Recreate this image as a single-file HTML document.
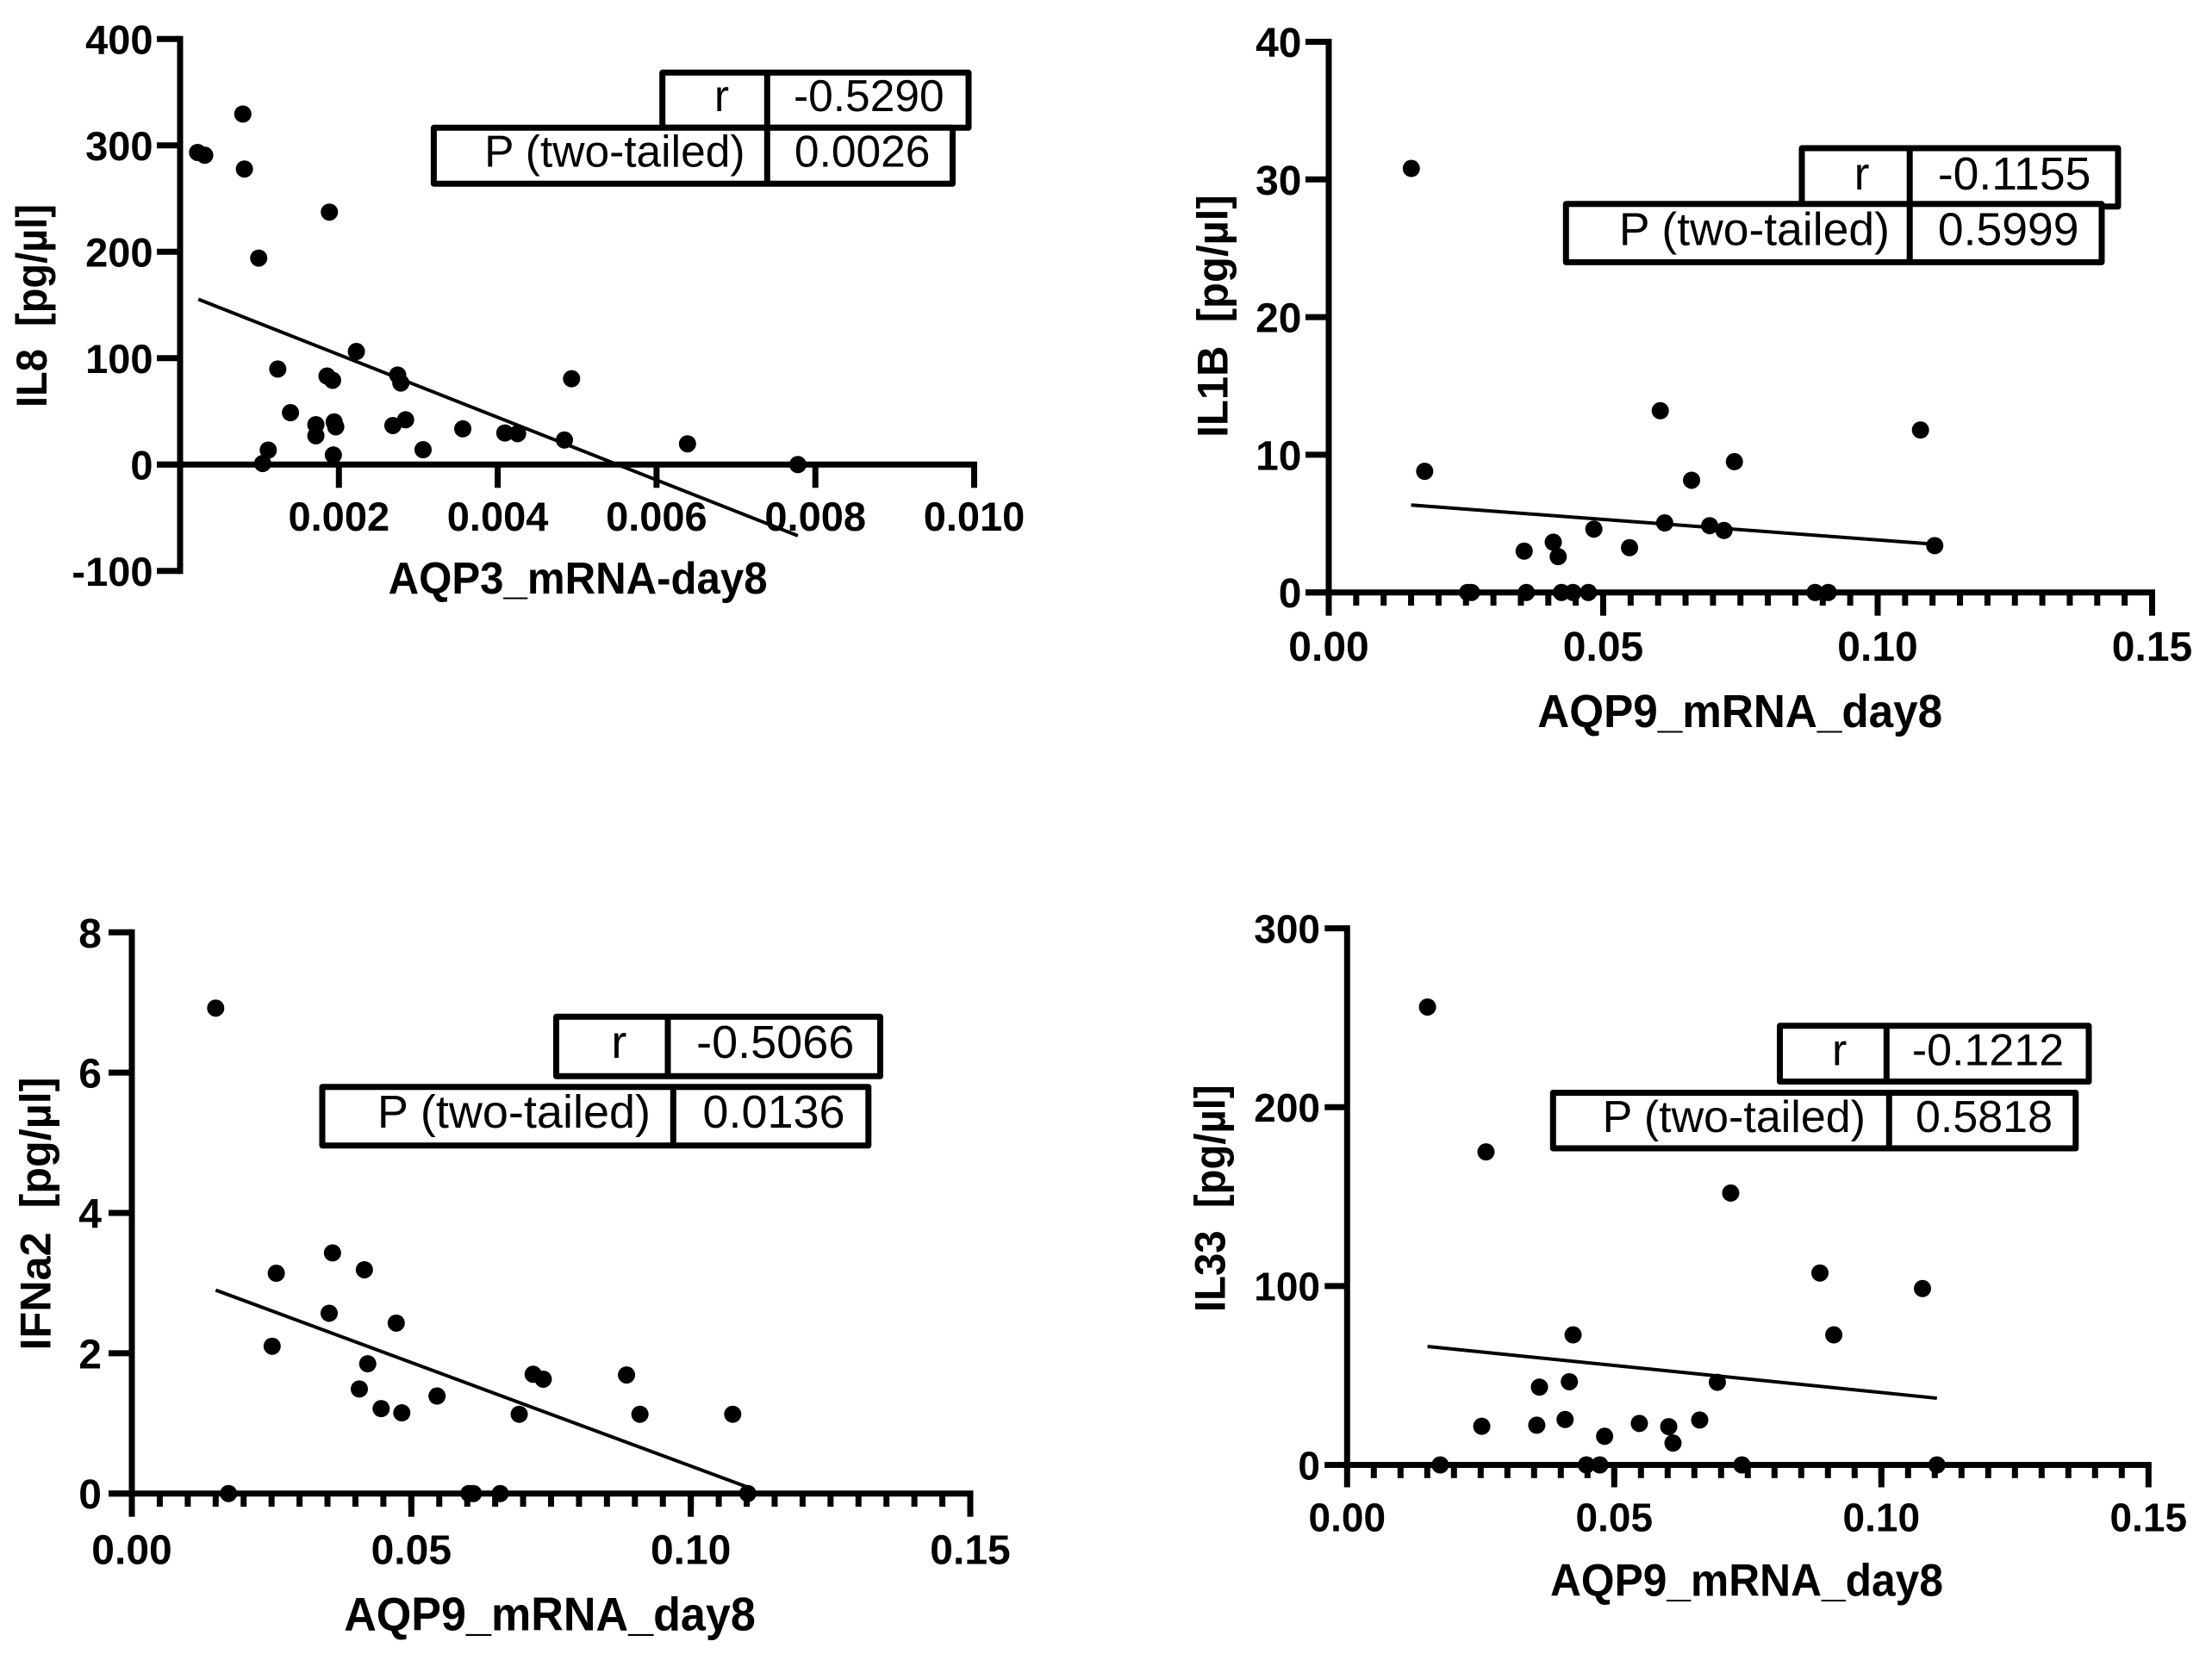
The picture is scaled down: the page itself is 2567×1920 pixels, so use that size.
<!DOCTYPE html>
<html lang="en">
<head>
<meta charset="utf-8">
<title>AQP mRNA correlation scatter plots</title>
<style>
html,body{margin:0;padding:0;background:#fff;}
svg{display:block;}
text{font-family:"Liberation Sans",sans-serif;fill:#000;white-space:pre;}
.t{font-weight:bold;}
.v{font-weight:normal;}
</style>
</head>
<body>
<svg id="figure" xmlns="http://www.w3.org/2000/svg" width="2567" height="1920" viewBox="0 0 2567 1920">
  <rect x="0" y="0" width="2567" height="1920" fill="#fff"/>

  <g id="panel-il8">
    <text class="t" transform="translate(54,355) rotate(-90)" text-anchor="middle" font-size="50" textLength="236" lengthAdjust="spacingAndGlyphs">IL8  [pg/µl]</text>
    <text class="t" x="670.6" y="689" text-anchor="middle" font-size="52" textLength="440" lengthAdjust="spacingAndGlyphs">AQP3_mRNA-day8</text>
  </g>
  <g id="panel-il1b">
    <text class="t" transform="translate(1424.3,367) rotate(-90)" text-anchor="middle" font-size="50" textLength="281.5" lengthAdjust="spacingAndGlyphs">IL1B  [pg/µl]</text>
    <text class="t" x="2019.2" y="844" text-anchor="middle" font-size="54" textLength="470" lengthAdjust="spacingAndGlyphs">AQP9_mRNA_day8</text>
  </g>
  <g id="panel-ifna2">
    <text class="t" transform="translate(58.7,1409) rotate(-90)" text-anchor="middle" font-size="50" textLength="317" lengthAdjust="spacingAndGlyphs">IFNa2  [pg/µl]</text>
    <text class="t" x="638" y="1892.7" text-anchor="middle" font-size="55" textLength="477.6" lengthAdjust="spacingAndGlyphs">AQP9_mRNA_day8</text>
  </g>
  <g id="panel-il33">
    <text class="t" transform="translate(1421.3,1391.2) rotate(-90)" text-anchor="middle" font-size="50" textLength="263.6" lengthAdjust="spacingAndGlyphs">IL33  [pg/µl]</text>
    <text class="t" x="2027" y="1852.7" text-anchor="middle" font-size="53" textLength="456" lengthAdjust="spacingAndGlyphs">AQP9_mRNA_day8</text>
  </g>
</svg>

<script>
// ---------- IL8 panel data ----------
const il8X = [0.00022,0.00031,0.00079,0.00081,0.00099,0.00188,0.00123,0.00185,0.00192,0.00222,0.00274,0.00278,0.00493,0.00139,0.00171,0.00171,0.00194,0.00196,0.00268,0.00284,0.00306,0.00356,0.00409,0.00425,0.00484,0.00639,0.00778,0.00104,0.00111,0.00193];
const il8Y = [293.4,290.8,329.5,277.8,194.1,237.3,89.8,83.2,79.2,106.3,84.2,76.7,80.7,48.8,37.5,27.1,40.1,35.5,36.7,42.1,14,33.6,29.7,29.1,23.1,19.5,0,1,13.6,9];
const il8FitX = [0.00023,0.00778];
const il8FitY = [155.4,-66.9];
const il8XTicks = [0.002,0.004,0.006,0.008,0.010];
const il8XTickLabels = ["0.002","0.004","0.006","0.008","0.010"];
const il8YTicks = [-100,0,100,200,300,400];
const il8YTickLabels = ["-100","0","100","200","300","400"];

// ---------- IL1B panel data ----------
const il1bX = [0.01504,0.01748,0.0604,0.1078,0.0739,0.0661,0.0612,0.0694,0.072,0.0483,0.0548,0.1104,0.0356,0.0409,0.0418,0.0253,0.026,0.036,0.0424,0.0445,0.0473,0.0886,0.091];
const il1bY = [30.8,8.8,13.2,11.8,9.5,8.15,5.05,4.85,4.5,4.6,3.25,3.4,3,3.65,2.6,0,0,0,0,0,0,0,0];
const il1bFitX = [0.015,0.1104];
const il1bFitY = [6.35,3.5];
const il1bYTicks = [0,10,20,30,40];
const il1bYTickLabels = ["0","10","20","30","40"];

// ---------- IFNa2 panel data ----------
const ifna2X = [0.015,0.02584,0.0359,0.0416,0.0353,0.0473,0.0251,0.0422,0.0407,0.0446,0.0483,0.0546,0.0693,0.0718,0.0736,0.0885,0.0909,0.1075,0.0173,0.0603,0.0611,0.0659,0.1102];
const ifna2Y = [6.92,3.14,3.43,3.19,2.57,2.43,2.1,1.85,1.49,1.21,1.15,1.39,1.13,1.7,1.63,1.69,1.13,1.13,0,0,0,0,0];
const ifna2FitX = [0.015,0.1102];
const ifna2FitY = [2.9,0.09];
const ifna2YTicks = [0,2,4,6,8];
const ifna2YTickLabels = ["0","2","4","6","8"];

// ---------- IL33 panel data ----------
const il33X = [0.01505,0.026,0.0718,0.0885,0.1077,0.0423,0.0911,0.0416,0.036,0.0693,0.0252,0.0355,0.0408,0.0482,0.0547,0.0602,0.061,0.066,0.01743,0.0448,0.0473,0.0739,0.1104];
const il33Y = [256,175,152,107.3,98.6,72.7,72.7,46.5,43.5,46.2,21.6,22.2,25.4,16,23.2,21.4,12.2,25.1,0,0,0,0,0];
const il33FitX = [0.01505,0.1104];
const il33FitY = [66.2,37.3];
const il33YTicks = [0,100,200,300];
const il33YTickLabels = ["0","100","200","300"];

// ---------- Shared AQP9 x axis data ----------
const aqp9XTicks = [0,0.05,0.10,0.15];
const aqp9XTickLabels = ["0.00","0.05","0.10","0.15"];
const aqp9MinorStep = 0.005;

const NS = "http://www.w3.org/2000/svg";

function mk(tag, parent, attrs) {
  const el = document.createElementNS(NS, tag);
  for (const k in attrs) el.setAttribute(k, attrs[k]);
  parent.appendChild(el);
  return el;
}

function drawPanel(p) {
  const g = document.getElementById(p.id);
  const sx = v => p.left + (v - p.xMin) / (p.xMax - p.xMin) * (p.right - p.left);
  const sy = v => p.bottom + (v - p.yMin) / (p.yMax - p.yMin) * (p.top - p.bottom);
  const zeroY = sy(0);

  // y axis line
  const yAxis = mk("line", g, {x1: sx(0), x2: sx(0), y1: p.top - p.sw / 2, y2: p.bottom + p.sw / 2, stroke: "#000", "stroke-width": p.sw});
  
  

  // x axis line
  const xAxis = mk("line", g, {x1: sx(0) - p.tick, x2: p.right + p.sw / 2, y1: zeroY, y2: zeroY, stroke: "#000", "stroke-width": p.sw});
  
  

  // y ticks and labels
  p.yTicks.forEach((v, i) => {
    const tick = mk("line", g, {x1: sx(0) - p.tick, x2: sx(0), y1: sy(v), y2: sy(v), stroke: "#000", "stroke-width": p.sw});
    
    
    const lab = mk("text", g, {x: p.yLabelRight, y: sy(v) + p.fs * 0.365, "text-anchor": "end", "font-size": p.fs, class: "t"});
    lab.textContent = p.yLabels[i];
    
    
  });

  // minor x ticks
  if (p.minorStep) {
    const n = Math.round((p.xMax - p.xMin) / p.minorStep);
    for (let i = 1; i < n; i++) {
      const v = p.xMin + i * p.minorStep;
      const minor = mk("line", g, {x1: sx(v), x2: sx(v), y1: zeroY, y2: zeroY + 15.3, stroke: "#000", "stroke-width": p.sw});
      
      
    }
  }

  // major x ticks and labels
  p.xTicks.forEach((v, i) => {
    const tick = mk("line", g, {x1: sx(v), x2: sx(v), y1: zeroY, y2: zeroY + p.tick, stroke: "#000", "stroke-width": p.sw});
    
    
    const lab = mk("text", g, {x: sx(v), y: p.xLabelY, "text-anchor": "middle", "font-size": p.fs, class: "t"});
    lab.textContent = p.xLabels[i];
    
    
  });

  // regression line
  const fit = mk("line", g, {x1: sx(p.fitX[0]), y1: sy(p.fitY[0]), x2: sx(p.fitX[1]), y2: sy(p.fitY[1]), stroke: "#000", "stroke-width": 4});
  
  

  // points
  p.xs.forEach((x, i) => {
    const dot = mk("circle", g, {cx: sx(x), cy: sy(p.ys[i]), r: 10, fill: "#000"});
    
    
  });

  // statistics table
  const s = p.stats;
  const rBox = mk("rect", g, {x: s.rx1, y: s.ry1, width: s.rx2 - s.rx1, height: s.ry2 - s.ry1, fill: "#fff", stroke: "#000", "stroke-width": 7, "stroke-linejoin": "round"});
  
  
  const rDiv = mk("line", g, {x1: s.rDiv, x2: s.rDiv, y1: s.ry1, y2: s.ry2, stroke: "#000", "stroke-width": 7});
  
  
  const pBox = mk("rect", g, {x: s.px1, y: s.py1, width: s.px2 - s.px1, height: s.py2 - s.py1, fill: "#fff", stroke: "#000", "stroke-width": 7, "stroke-linejoin": "round"});
  
  
  const pDiv = mk("line", g, {x1: s.pDiv, x2: s.pDiv, y1: s.py1, y2: s.py2, stroke: "#000", "stroke-width": 7});
  
  

  const rLabel = mk("text", g, {x: s.rLabelX, y: s.rBase, "text-anchor": "end", "font-size": s.fs, class: "v"});
  rLabel.textContent = "r";
  
  
  const rValue = mk("text", g, {x: s.rValueX, y: s.rBase, "text-anchor": "middle", "font-size": s.fs, class: "v"});
  rValue.textContent = s.rValue;
  
  
  const pLabel = mk("text", g, {x: s.pLabelX, y: s.pBase, "text-anchor": "end", "font-size": s.fs, class: "v"});
  pLabel.textContent = "P (two-tailed)";
  
  
  const pValue = mk("text", g, {x: s.pValueX, y: s.pBase, "text-anchor": "middle", "font-size": s.fs, class: "v"});
  pValue.textContent = s.pValue;
  
  
}

drawPanel({
  id: "panel-il8", key: "il8",
  left: 209, right: 1130.5, top: 45.3, bottom: 662.8, xMin: 0, xMax: 0.010, yMin: -100, yMax: 400,
  sw: 7, tick: 27, fs: 47, yLabelRight: 177.5, xLabelY: 616, minorStep: 0,
  xs: il8X, ys: il8Y, fitX: il8FitX, fitY: il8FitY,
  xTicks: il8XTicks, xLabels: il8XTickLabels, yTicks: il8YTicks, yLabels: il8YTickLabels,
  stats: {fs: 51.5, rx1: 768.7, rx2: 1124, ry1: 84.3, ry2: 148.3, rDiv: 890.3, px1: 503.4, px2: 1105.5, py1: 148.3, py2: 213.3, pDiv: 890.3,
    rLabelX: 846, pLabelX: 864.5, rValueX: 1008.3, pValueX: 1000.7, rBase: 129, pBase: 193.5, rValue: "-0.5290", pValue: "0.0026"}
});

drawPanel({
  id: "panel-il1b", key: "il1b",
  left: 1542, right: 2497.5, top: 48.5, bottom: 687.7, xMin: 0, xMax: 0.15, yMin: 0, yMax: 40,
  sw: 7, tick: 27, fs: 48, yLabelRight: 1510.5, xLabelY: 767, minorStep: aqp9MinorStep,
  xs: il1bX, ys: il1bY, fitX: il1bFitX, fitY: il1bFitY,
  xTicks: aqp9XTicks, xLabels: aqp9XTickLabels, yTicks: il1bYTicks, yLabels: il1bYTickLabels,
  stats: {fs: 53.5, rx1: 2091, rx2: 2458, ry1: 172, ry2: 239.8, rDiv: 2216.2, px1: 1817.3, px2: 2439, py1: 236.8, py2: 304.4, pDiv: 2216.2,
    rLabelX: 2169.5, pLabelX: 2193, rValueX: 2337.6, pValueX: 2330.7, rBase: 219.9, pBase: 284.5, rValue: "-0.1155", pValue: "0.5999"}
});

drawPanel({
  id: "panel-ifna2", key: "ifna2",
  left: 153, right: 1126, top: 1082.3, bottom: 1733.7, xMin: 0, xMax: 0.15, yMin: 0, yMax: 8,
  sw: 7, tick: 27, fs: 48, yLabelRight: 118, xLabelY: 1815.5, minorStep: aqp9MinorStep,
  xs: ifna2X, ys: ifna2Y, fitX: ifna2FitX, fitY: ifna2FitY,
  xTicks: aqp9XTicks, xLabels: aqp9XTickLabels, yTicks: ifna2YTicks, yLabels: ifna2YTickLabels,
  stats: {fs: 54, rx1: 645.5, rx2: 1021.5, ry1: 1180.3, ry2: 1249.3, rDiv: 775, px1: 374, px2: 1007.8, py1: 1261.7, py2: 1329.8, pDiv: 781.3,
    rLabelX: 727.3, pLabelX: 755, rValueX: 899.7, pValueX: 898, rBase: 1228, pBase: 1309, rValue: "-0.5066", pValue: "0.0136"}
});

drawPanel({
  id: "panel-il33", key: "il33",
  left: 1563.3, right: 2493.3, top: 1077.6, bottom: 1700.5, xMin: 0, xMax: 0.15, yMin: 0, yMax: 300,
  sw: 7, tick: 26, fs: 46, yLabelRight: 1532, xLabelY: 1777.5, minorStep: aqp9MinorStep,
  xs: il33X, ys: il33Y, fitX: il33FitX, fitY: il33FitY,
  xTicks: aqp9XTicks, xLabels: aqp9XTickLabels, yTicks: il33YTicks, yLabels: il33YTickLabels,
  stats: {fs: 52, rx1: 2065.5, rx2: 2424, ry1: 1190.8, ry2: 1255.5, rDiv: 2189.3, px1: 1802.3, px2: 2408.8, py1: 1268.5, py2: 1333, pDiv: 2192.3,
    rLabelX: 2143.3, pLabelX: 2165, rValueX: 2307, pValueX: 2302.5, rBase: 1236.5, pBase: 1314, rValue: "-0.1212", pValue: "0.5818"}
});
</script>
</body>
</html>
